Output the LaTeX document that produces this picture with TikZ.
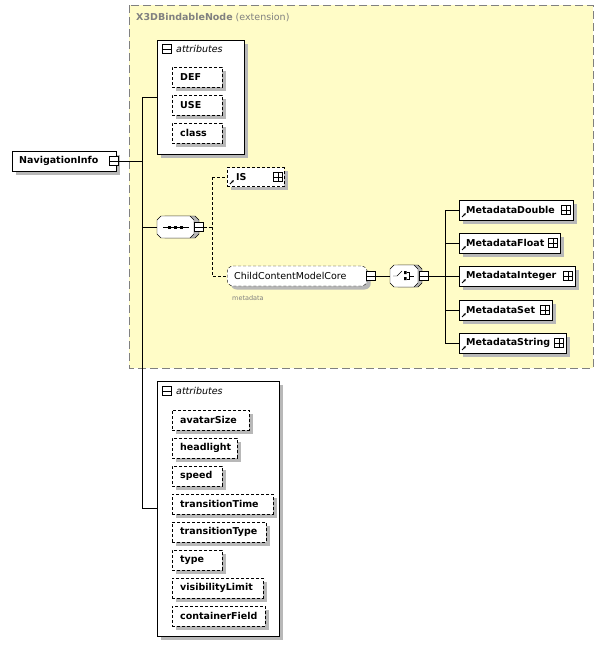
\documentclass[tikz,border=0pt]{standalone}
\usepackage{fontspec}
\setmainfont{DejaVu Sans}
\usetikzlibrary{shadows,arrows.meta}
\begin{document}
\begin{tikzpicture}[
    x = 1pt, y = -1pt,
    font = \fontsize{9.5}{11}\selectfont,
    shade/.style = {drop shadow = {shadow xshift = 3.5pt, shadow yshift = -3.5pt, fill = black!28, opacity = 1}},
    elem/.style  = {draw, fill = white, shade, anchor = west, minimum height = 20pt, inner xsep = 7pt, align = left, font = \fontsize{9.5}{11}\selectfont\bfseries},
    attr/.style  = {elem, dash pattern = on 3pt off 2pt, inner xsep = 8pt},
    grp/.style   = {draw, fill = white, shade},
    sign/.style  = {draw, fill = white, minimum size = 9pt, inner sep = 0pt},
    link/.style  = {-{Latex[length = 2.5pt, width = 2.5pt]}, line width = 0.8pt}
  ]
  \useasboundingbox (0,0) rectangle (606,656);
  % extension frame
  \draw[gray, fill = yellow!22, dash pattern = on 8pt off 4pt] (129,5) rectangle (593,368);
  \node[anchor = west, text = gray, inner sep = 0pt] (ext) at (136,18) {\textbf{X3DBindableNode} (extension)};
  % attribute groups
  \node[grp, minimum width = 87pt, minimum height = 114pt, anchor = north west] (grpa) at (157,40) {};
  \node[grp, minimum width = 122pt, minimum height = 255pt, anchor = north west] (grpb) at (157,381) {};
  \node[sign] (ma) at (167,49) {}; \draw (ma.west) -- (ma.east);
  \node[anchor = west, inner sep = 0pt] (ta) at (176,49) {\itshape attributes};
  \node[sign] (mb) at (167,391) {}; \draw (mb.west) -- (mb.east);
  \node[anchor = west, inner sep = 0pt] (tb) at (176,391) {\itshape attributes};
  \foreach \name/\txt/\w/\y in {def/DEF/50/77, use/USE/50/105, class/class/50/133,
      avatar/avatarSize/77/420, head/headlight/65/448, speed/speed/50/476,
      ttime/transitionTime/101/504, ttype/transitionType/94/532, type/type/50/560,
      vis/visibilityLimit/91/588, cf/containerField/93/616}
    \node[attr, minimum width = \w pt, text width = \w pt - 16pt] (\name) at (172,\y) {\txt};
  % root element
  \node[elem, minimum width = 104pt, text width = 90pt] (nav) at (12,161) {NavigationInfo};
  \node[sign] (mnav) at (114,161) {}; \draw (mnav.west) -- (mnav.east);
  % sequence compositor
  \filldraw[fill = black!28] (161,220) -- (165,216) -- (195,216) -- (199,220) -- (199,234) -- (195,238) -- (165,238) -- (161,234) -- cycle;
  \filldraw[fill = white] (157,220) -- (161,216) -- (190,216) -- (194,220) -- (194,234) -- (190,238) -- (161,238) -- (157,234) -- cycle;
  \coordinate (seq) at (157,227);
  \draw (163,227) -- (189,227);
  \foreach \dx in {-6,0,6} \fill (174+\dx,225.5) rectangle +(3,3);
  \node[sign] (mseq) at (199,227) {}; \draw (mseq.west) -- (mseq.east);
  % IS and ChildContentModelCore
  \node[elem, dash pattern = on 3pt off 2pt, minimum width = 57pt, text width = 43pt, minimum height = 19pt, inner xsep = 7pt] (is) at (227,177) {\hspace*{2pt}IS};
  \node[sign] (pis) at (278,177) {}; \draw (pis.west) -- (pis.east) (pis.north) -- (pis.south);
  \node[elem, dash pattern = on 3pt off 2pt, rounded corners = 6pt, font = \fontsize{9.5}{11}\selectfont, minimum width = 140pt, text width = 126pt] (ccm) at (227,276) {ChildContentModelCore};
  \node[sign] (mccm) at (371,276) {}; \draw (mccm.west) -- (mccm.east);
  \node[anchor = west, text = gray, font = \fontsize{6.5}{7}\selectfont, inner sep = 0pt] (meta) at (232,298) {metadata};
  % choice compositor
  \filldraw[fill = black!28] (394,269) -- (398,265) -- (418,265) -- (422,269) -- (422,283) -- (418,287) -- (398,287) -- (394,283) -- cycle;
  \filldraw[fill = white] (390,269) -- (394,265) -- (414,265) -- (418,269) -- (418,283) -- (414,287) -- (394,287) -- (390,283) -- cycle;
  \coordinate (cho) at (390,276);
  \draw (393,276) -- (397,276) -- (402,271);
  \fill (404,271) rectangle +(2.5,3) (404,277) rectangle +(2.5,3);
  \draw (407,272.5) -- (409,272.5) -- (409,279.5) -- (407,279.5) (409,276) -- (414,276);
  \node[sign] (mcho) at (424,276) {}; \draw (mcho.west) -- (mcho.east);
  % metadata children
  \foreach \name/\txt/\w/\y in {md/MetadataDouble/114/210, mf/MetadataFloat/101/243,
      mi/MetadataInteger/116/276, ms/MetadataSet/93/310, mstr/MetadataString/107/343} {
    \node[elem, minimum width = \w pt, text width = \w pt - 22pt, inner xsep = 11pt, xshift = 0pt] (\name) at (459,\y) {\hspace*{-4pt}\txt};
    \node[sign] (p\name) at (459+\w-7,\y) {};
    \draw (p\name.west) -- (p\name.east) (p\name.north) -- (p\name.south);
    \draw[link] (462,\y+7) -- (466,\y+3);
  }
  \draw[link] (230,184) -- (234,180);
  % connectors
  \draw (mnav.east) -- (142,161);
  \draw (142,97) -- (142,508);
  \draw (142,97) -- (grpa.west |- 0,97);
  \draw (142,227) -- (seq);
  \draw (142,508) -- (157,508);
  \draw[dash pattern = on 3pt off 2pt] (mseq.east) -- (212,227);
  \draw[dash pattern = on 3pt off 2pt] (212,177) -- (is.west);
  \draw[dash pattern = on 3pt off 2pt] (212,177) -- (212,276) -- (ccm.west);
  \draw (mccm.east) -- (cho);
  \draw (mcho.east) -- (445,276);
  \draw (445,210) -- (445,343);
  \foreach \name/\y in {md/210, mf/243, mi/276, ms/310, mstr/343}
    \draw (445,\y) -- (\name.west);
\end{tikzpicture}
\end{document}
